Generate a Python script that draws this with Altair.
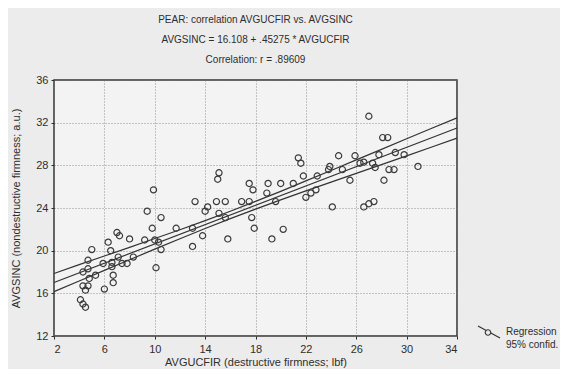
import altair as alt
import pandas as pd

# ---- data ----
x_vals = [4.1, 4.3, 4.5, 4.5, 4.3, 4.7, 4.8, 4.3, 4.7, 4.7, 5.0, 5.3,
          5.9, 6.0, 6.3, 6.5, 6.6, 6.6, 6.7, 6.7, 7.0, 7.2, 7.1, 7.4, 7.8, 8.0, 8.3,
          9.2, 9.4, 9.8, 10.0, 10.1, 9.9, 10.5, 10.3, 10.5,
          11.7, 13.0, 13.0, 13.2, 13.8, 14.0, 14.2, 14.9, 15.0, 15.1, 15.1, 15.6, 15.6, 15.8,
          16.9, 17.5, 17.5, 17.7, 17.8, 17.9, 18.9, 19.0, 19.3, 19.6, 20.0, 20.2,
          21.0, 21.4, 21.6, 21.8, 22.0, 22.4, 22.8, 22.9, 23.8, 23.9, 24.1, 24.6, 24.9, 25.5, 25.9, 26.3,
          26.6, 26.6, 27.0, 27.4, 27.3, 27.5, 27.0, 27.8, 28.1, 28.5, 29.1, 29.8, 30.9, 28.6, 29.0, 28.2]
y_vals = [15.4, 15.0, 14.7, 16.3, 16.7, 16.7, 17.4, 18.0, 18.3, 19.1, 20.1, 17.7,
          18.8, 16.4, 20.8, 20.0, 18.9, 18.5, 17.7, 17.0, 21.7, 21.4, 19.4, 18.8, 18.8, 21.1, 19.4,
          21.0, 23.7, 22.1, 21.0, 18.4, 25.7, 23.1, 20.8, 20.1,
          22.1, 22.1, 20.4, 24.6, 21.4, 23.7, 24.1, 24.6, 26.7, 27.3, 23.5, 24.6, 23.1, 21.1,
          24.6, 24.6, 26.3, 23.1, 25.7, 22.1, 25.4, 26.3, 21.1, 24.6, 26.3, 22.0,
          26.3, 28.7, 28.2, 27.0, 25.0, 25.4, 25.7, 27.0, 27.6, 27.9, 24.1, 28.9, 27.6, 26.6, 28.9, 28.2,
          28.3, 24.1, 24.4, 24.6, 28.2, 27.8, 32.6, 29.0, 30.6, 30.6, 29.2, 29.0, 27.9, 27.6, 27.6, 26.6]

fit_x = [2, 34]
fit_y = [17.01, 31.50]

ci_x = [2, 4, 6, 8, 10, 12, 14, 16, 18, 20, 22, 24, 26, 28, 30, 32, 34]
ci_upper = [17.86, 18.69, 19.50, 20.31, 21.14, 21.96, 22.82, 23.70, 24.62, 25.56, 26.54,
            27.52, 28.51, 29.50, 30.49, 31.48, 32.45]
ci_lower = [16.16, 17.15, 18.15, 19.15, 20.14, 21.12, 22.08, 23.00, 23.90, 24.76, 25.60,
            26.42, 27.25, 28.07, 28.89, 29.72, 30.55]

title_lines = ["PEAR: correlation AVGUCFIR vs. AVGSINC",
               "AVGSINC = 16.108 + .45275 * AVGUCFIR",
               "Correlation: r = .89609"]
x_ticks = [2, 6, 10, 14, 18, 22, 26, 30, 34]
y_ticks = [12, 16, 20, 24, 28, 32, 36]
legend_labels = ["Regression", "95% confid."]

# ---- tables ----
pts = pd.DataFrame({"x": x_vals, "y": y_vals})
lines = pd.concat([
    pd.DataFrame({"x": fit_x, "y": fit_y, "s": "fit"}),
    pd.DataFrame({"x": ci_x, "y": ci_upper, "s": "upper"}),
    pd.DataFrame({"x": ci_x, "y": ci_lower, "s": "lower"}),
])
leg_df = pd.DataFrame({"label": legend_labels})

FONT = "Liberation Sans"
INK = "#2e2e2e"
W, H = 403, 256

xs = alt.Scale(domain=[2, 34], nice=False, zero=False)
ys = alt.Scale(domain=[12, 36], nice=False, zero=False)

x_axis = alt.Axis(values=x_ticks, title="AVGUCFIR (destructive firmness; lbf)",
                  grid=True, gridDash=[1, 2], gridColor="#777", gridWidth=0.8,
                  domain=False, ticks=True, tickSize=3, tickColor=INK,
                  labelFontSize=11, labelColor=INK, labelFont=FONT, labelPadding=4,
                  titleFontSize=11, titleColor=INK, titleFont=FONT,
                  titleFontWeight="normal", titlePadding=2)
y_axis = alt.Axis(values=y_ticks, title="AVGSINC (nondestructive firmness; a.u.)",
                  grid=True, gridDash=[1, 2], gridColor="#777", gridWidth=0.8,
                  domain=False, ticks=True, tickSize=3, tickColor=INK,
                  labelFontSize=11, labelColor=INK, labelFont=FONT, labelPadding=3,
                  titleFontSize=11, titleColor=INK, titleFont=FONT,
                  titleFontWeight="normal", titlePadding=14)

points = alt.Chart(pts).mark_point(shape="circle", filled=False, size=38,
                                   stroke="#3a3a3a", strokeWidth=1.2, opacity=1).encode(
    x=alt.X("x:Q", scale=xs, axis=x_axis),
    y=alt.Y("y:Q", scale=ys, axis=y_axis),
)

reg = alt.Chart(lines).mark_line(color="#333", strokeWidth=1.2).encode(
    x=alt.X("x:Q", scale=xs),
    y=alt.Y("y:Q", scale=ys),
    detail="s:N",
)

leg_t1 = alt.Chart(leg_df.iloc[[0]]).mark_text(align="left", baseline="middle", font=FONT,
                                               fontSize=10, color=INK).encode(
    x=alt.value(452), y=alt.value(252), text="label:N")
leg_t2 = alt.Chart(leg_df.iloc[[1]]).mark_text(align="left", baseline="middle", font=FONT,
                                               fontSize=10, color=INK).encode(
    x=alt.value(452), y=alt.value(265), text="label:N")
leg_line = alt.Chart(leg_df.iloc[[0]]).mark_rule(color="#333", strokeWidth=1.2).encode(
    x=alt.value(424), x2=alt.value(446), y=alt.value(246), y2=alt.value(258))
leg_pt = alt.Chart(leg_df.iloc[[0]]).mark_point(shape="circle", filled=True, size=30,
                                                fill="#ececec", stroke="#3a3a3a",
                                                strokeWidth=1.2, opacity=1).encode(
    x=alt.value(434), y=alt.value(252.5))

chart = alt.layer(reg, points, leg_line, leg_pt, leg_t1, leg_t2).properties(
    width=W, height=H,
    title=alt.TitleParams(text=title_lines, fontSize=10, font=FONT, fontWeight="normal",
                          color=INK, lineHeight=20, anchor="middle", offset=9),
    autosize=alt.AutoSizeParams(type="none"),
    padding={"left": 46, "top": 72, "right": 103, "bottom": 33},
    background="#ececec",
).configure_view(stroke="#333", strokeWidth=1.5, fill="#f3f3f3")

chart.save("out.html", embed_options={"renderer": "svg", "actions": False})
